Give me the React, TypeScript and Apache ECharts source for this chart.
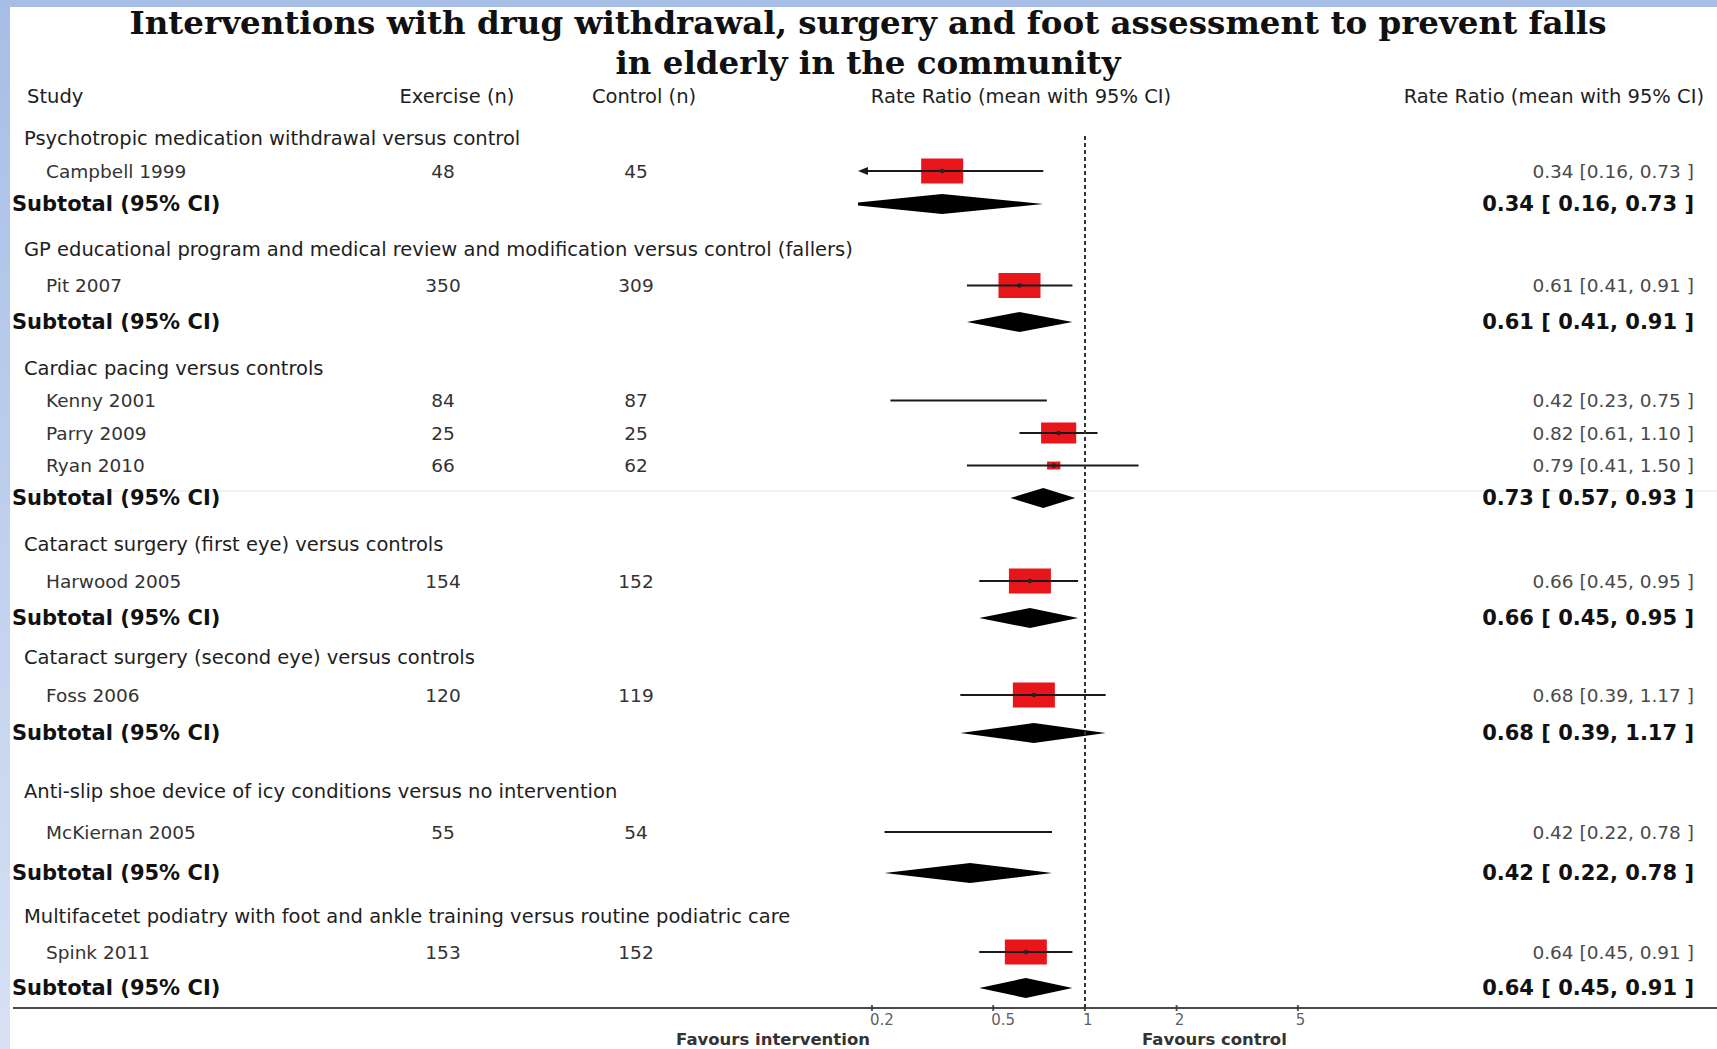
import React, { useEffect, useRef } from "react";
import * as echarts from "echarts";

// ---- data ---------------------------------------------------------------
const titleLines = [
  "Interventions with drug withdrawal, surgery and foot assessment to prevent falls",
  "in elderly in the community",
];
const columnHeaders = [
  "Study",
  "Exercise (n)",
  "Control (n)",
  "Rate Ratio (mean with 95% CI)",
  "Rate Ratio (mean with 95% CI)",
];

const groupNames = [
  "Psychotropic medication withdrawal versus control",
  "GP educational program and medical review and modification versus control (fallers)",
  "Cardiac pacing versus controls",
  "Cataract surgery (first eye) versus controls",
  "Cataract surgery (second eye) versus controls",
  "Anti-slip shoe device of icy conditions versus no intervention",
  "Multifacetet podiatry with foot and ankle training versus routine podiatric care",
];

const studyGroup = [0, 1, 2, 2, 2, 3, 4, 5, 6];
const studyNames = [
  "Campbell 1999",
  "Pit 2007",
  "Kenny 2001",
  "Parry 2009",
  "Ryan 2010",
  "Harwood 2005",
  "Foss 2006",
  "McKiernan 2005",
  "Spink 2011",
];
const exerciseN = [48, 350, 84, 25, 66, 154, 120, 55, 153];
const controlN = [45, 309, 87, 25, 62, 152, 119, 54, 152];
const studyRR = [0.34, 0.61, 0.42, 0.82, 0.79, 0.66, 0.68, 0.42, 0.64];
const studyLo = [0.16, 0.41, 0.23, 0.61, 0.41, 0.45, 0.39, 0.22, 0.45];
const studyHi = [0.73, 0.91, 0.75, 1.1, 1.5, 0.95, 1.17, 0.78, 0.91];
// study weight within its subgroup (%); null = no weight box drawn
const studyWeight: (number | null)[] = [100, 100, null, 70, 10, 100, 100, null, 100];

const subtotalLabel = "Subtotal (95% CI)";
const subtotalRR = [0.34, 0.61, 0.73, 0.66, 0.68, 0.42, 0.64];
const subtotalLo = [0.16, 0.41, 0.57, 0.45, 0.39, 0.22, 0.45];
const subtotalHi = [0.73, 0.91, 0.93, 0.95, 1.17, 0.78, 0.91];

const tickValues = [0.2, 0.5, 1, 2, 5];
const tickLabels = ["0.2", "0.5", "1", "2", "5"];
const favoursLabels = ["Favours intervention", "Favours control"];

// ---- layout ---------------------------------------------------------------
const W = 1717;
const H = 1049;
const PLOT_LEFT = 858;
const PLOT_WIDTH = 464;
const PLOT_RIGHT = PLOT_LEFT + PLOT_WIDTH;
const X_MIN = 0.18;
const X_MAX = 6;
const GROUP_TOP = [121.5, 230.75, 351.75, 525.5, 638, 770.5, 898];
const GROUP_STEP = [33, 36.5, 32.5, 37, 38, 41, 36];
const TEXT_LEFT = 12;
const EXERCISE_X = 443;
const CONTROL_X = 636;
const RATIO_RIGHT = 1694;
const AXIS_Y = 1008;

const SANS = "DejaVu Sans";

const fmt = (v: number) => v.toFixed(2);

type Row = { type: "group" | "study" | "subtotal"; idx: number };

function groupRows(g: number): Row[] {
  const rows: Row[] = [{ type: "group", idx: g }];
  studyGroup.forEach((sg, i) => {
    if (sg === g) rows.push({ type: "study", idx: i });
  });
  rows.push({ type: "subtotal", idx: g });
  return rows;
}

function clipLeft(pts: number[][], xl: number): number[][] {
  const out: number[][] = [];
  for (let i = 0; i < pts.length; i++) {
    const a = pts[i];
    const b = pts[(i + 1) % pts.length];
    const ina = a[0] >= xl;
    const inb = b[0] >= xl;
    if (ina) out.push(a);
    if (ina !== inb) {
      const t = (xl - a[0]) / (b[0] - a[0]);
      out.push([xl, a[1] + t * (b[1] - a[1])]);
    }
  }
  return out;
}

function renderStudy(_params: any, api: any) {
  const rr = api.value(0);
  const lo = api.value(1);
  const hi = api.value(2);
  const row = api.value(3);
  const wt = api.value(4);
  const [cx, cy] = api.coord([rr, row]);
  const xl = api.coord([X_MIN, row])[0];
  const xr = api.coord([X_MAX, row])[0];
  const xLo = api.coord([lo, row])[0];
  const xHi = Math.min(api.coord([hi, row])[0], xr);
  const children: any[] = [];
  if (wt > 0) {
    const f = Math.sqrt(wt / 100);
    const bw = 42 * f;
    const bh = 25 * f;
    children.push({
      type: "rect",
      shape: { x: cx - bw / 2, y: cy - bh / 2, width: bw, height: bh },
      style: { fill: "#e8151b" },
    });
  }
  const clipped = xLo < xl;
  const x0 = clipped ? xl + 3 : xLo;
  children.push({
    type: "line",
    shape: { x1: x0, y1: cy, x2: xHi, y2: cy },
    style: { stroke: "#1a1a1a", lineWidth: 2 },
  });
  if (clipped) {
    children.push({
      type: "polygon",
      shape: { points: [[xl, cy], [xl + 10, cy - 4], [xl + 10, cy + 4]] },
      style: { fill: "#1a1a1a" },
    });
  }
  if (wt > 0) {
    children.push({
      type: "circle",
      shape: { cx, cy, r: 2.2 },
      style: { fill: "#222" },
    });
  }
  return { type: "group", children };
}

function renderDiamond(_params: any, api: any) {
  const rr = api.value(0);
  const lo = api.value(1);
  const hi = api.value(2);
  const row = api.value(3);
  const [cx, cy] = api.coord([rr, row]);
  const xl = api.coord([X_MIN, row])[0];
  const xLo = api.coord([lo, row])[0];
  const xHi = api.coord([hi, row])[0];
  const hh = 10;
  const pts = clipLeft(
    [
      [xLo, cy],
      [cx, cy - hh],
      [xHi, cy],
      [cx, cy + hh],
    ],
    xl
  );
  return {
    type: "polygon",
    shape: { points: pts },
    style: { fill: "#000" },
  };
}

function buildOption() {
  const grid: any[] = [];
  const xAxis: any[] = [];
  const yAxis: any[] = [];
  const series: any[] = [];

  groupNames.forEach((_, g) => {
    const rows = groupRows(g);
    const keys = rows.map((_r, i) => `${g}-${i}`);
    grid.push({
      left: PLOT_LEFT,
      width: PLOT_WIDTH,
      top: GROUP_TOP[g],
      height: GROUP_STEP[g] * rows.length,
      containLabel: false,
      outerBoundsMode: "none",
    });
    xAxis.push({ type: "log", gridIndex: g, min: X_MIN, max: X_MAX, show: false });

    const base = {
      type: "category",
      gridIndex: g,
      inverse: true,
      data: keys,
      axisLine: { show: false },
      axisTick: { show: false },
      splitLine: { show: false },
    };
    const yName = yAxis.length;
    // study / group / subtotal names
    yAxis.push({
      ...base,
      position: "left",
      offset: 0,
      axisLabel: {
        interval: 0,
        margin: PLOT_LEFT - TEXT_LEFT,
        align: "left",
        formatter: (_v: string, i: number) => {
          const r = rows[i];
          if (r.type === "group") return `{g|${groupNames[r.idx]}}`;
          if (r.type === "study") return `{s|${studyNames[r.idx]}}`;
          return `{t|${subtotalLabel}}`;
        },
        rich: {
          g: { fontFamily: SANS, fontSize: 19.5, color: "#1e1e1e", padding: [0, 0, 0, 12] },
          s: { fontFamily: SANS, fontSize: 18.5, color: "#333", padding: [0, 0, 0, 34] },
          t: { fontFamily: SANS, fontSize: 21, fontWeight: "bold", color: "#111" },
        },
      },
    });
    // exercise (n)
    yAxis.push({
      ...base,
      position: "left",
      offset: PLOT_LEFT - EXERCISE_X,
      axisLabel: {
        interval: 0,
        margin: 0,
        align: "center",
        fontFamily: SANS,
        fontSize: 18.5,
        color: "#333",
        formatter: (_v: string, i: number) =>
          rows[i].type === "study" ? String(exerciseN[rows[i].idx]) : "",
      },
    });
    // control (n)
    yAxis.push({
      ...base,
      position: "left",
      offset: PLOT_LEFT - CONTROL_X,
      axisLabel: {
        interval: 0,
        margin: 0,
        align: "center",
        fontFamily: SANS,
        fontSize: 18.5,
        color: "#333",
        formatter: (_v: string, i: number) =>
          rows[i].type === "study" ? String(controlN[rows[i].idx]) : "",
      },
    });
    // rate ratio text
    yAxis.push({
      ...base,
      position: "right",
      offset: RATIO_RIGHT - PLOT_RIGHT,
      axisLabel: {
        interval: 0,
        margin: 0,
        align: "right",
        formatter: (_v: string, i: number) => {
          const r = rows[i];
          if (r.type === "study")
            return `{s|${fmt(studyRR[r.idx])} [${fmt(studyLo[r.idx])}, ${fmt(studyHi[r.idx])} ]}`;
          if (r.type === "subtotal")
            return `{t|${fmt(subtotalRR[r.idx])} [ ${fmt(subtotalLo[r.idx])}, ${fmt(subtotalHi[r.idx])} ]}`;
          return "";
        },
        rich: {
          s: { fontFamily: SANS, fontSize: 18.5, color: "#4a4a4a" },
          t: { fontFamily: SANS, fontSize: 21, fontWeight: "bold", color: "#111" },
        },
      },
    });

    const studyData: number[][] = [];
    rows.forEach((r, i) => {
      if (r.type === "study")
        studyData.push([studyRR[r.idx], studyLo[r.idx], studyHi[r.idx], i, studyWeight[r.idx] ?? 0]);
    });
    series.push({
      type: "custom",
      xAxisIndex: g,
      yAxisIndex: yName,
      renderItem: renderStudy,
      encode: { x: [0, 1, 2], y: 3 },
      data: studyData,
      silent: true,
      z: 3,
    });
    series.push({
      type: "custom",
      xAxisIndex: g,
      yAxisIndex: yName,
      renderItem: renderDiamond,
      encode: { x: [0, 1, 2], y: 3 },
      data: [[subtotalRR[g], subtotalLo[g], subtotalHi[g], rows.length - 1]],
      silent: true,
      z: 3,
    });
  });

  // shared axis: null line at 1, tick marks and tick labels
  const axisGrid = grid.length;
  grid.push({
    left: PLOT_LEFT,
    width: PLOT_WIDTH,
    top: 135,
    height: AXIS_Y - 135,
    containLabel: false,
    outerBoundsMode: "none",
  });
  xAxis.push({
    type: "log",
    gridIndex: axisGrid,
    min: X_MIN,
    max: X_MAX,
    axisLine: { show: false },
    axisTick: { show: false },
    axisLabel: { show: false },
    splitLine: { show: false },
  });
  const axisY = yAxis.length;
  yAxis.push({ type: "value", gridIndex: axisGrid, min: 0, max: 1, show: false });
  series.push({
    type: "scatter",
    xAxisIndex: axisGrid,
    yAxisIndex: axisY,
    data: tickValues.map((v) => [v, 0]),
    symbol: "rect",
    symbolSize: [2, 6],
    itemStyle: { color: "#333" },
    clip: false,
    silent: true,
    label: {
      show: true,
      position: "bottom",
      distance: 1,
      align: "left",
      offset: [-2, 0],
      fontFamily: SANS,
      fontSize: 15,
      lineHeight: 15,
      color: "#333",
      formatter: (p: any) => tickLabels[p.dataIndex],
    },
    markLine: {
      silent: true,
      symbol: "none",
      label: { show: false },
      lineStyle: { type: [4, 3], color: "#333", width: 2 },
      data: [{ xAxis: 1 }],
    },
    z: 2,
  });

  const headerStyle = { fontFamily: SANS, fontSize: 19.5, fill: "#1e1e1e" };
  const titleStyle = {
    fontFamily: "DejaVu Serif",
    fontWeight: "bold",
    fontSize: 32.5,
    fill: "#111",
    textAlign: "center",
    textVerticalAlign: "middle",
  };
  const favStyle = {
    fontFamily: SANS,
    fontWeight: "bold",
    fontSize: 16.5,
    lineHeight: 17,
    fill: "#333",
    textVerticalAlign: "middle",
  };
  const graphic: any[] = [
    {
      type: "rect",
      shape: { x: 0, y: 0, width: W, height: 7 },
      style: { fill: "#a6bee6" },
      z: 10,
    },
    {
      type: "rect",
      shape: { x: 0, y: 0, width: 10, height: H },
      style: {
        fill: new echarts.graphic.LinearGradient(0, 0, 0, 1, [
          { offset: 0, color: "#a6bee6" },
          { offset: 1, color: "#d8e1f4" },
        ]),
      },
      z: 10,
    },
    { type: "text", x: 868, y: 22, style: { ...titleStyle, text: titleLines[0] } },
    { type: "text", x: 868, y: 62, style: { ...titleStyle, text: titleLines[1] } },
    {
      type: "text",
      x: 27,
      y: 96,
      style: { ...headerStyle, text: columnHeaders[0], textAlign: "left", textVerticalAlign: "middle" },
    },
    {
      type: "text",
      x: 457,
      y: 96,
      style: { ...headerStyle, text: columnHeaders[1], textAlign: "center", textVerticalAlign: "middle" },
    },
    {
      type: "text",
      x: 644,
      y: 96,
      style: { ...headerStyle, text: columnHeaders[2], textAlign: "center", textVerticalAlign: "middle" },
    },
    {
      type: "text",
      x: 1021,
      y: 96,
      style: { ...headerStyle, text: columnHeaders[3], textAlign: "center", textVerticalAlign: "middle" },
    },
    {
      type: "text",
      x: 1704,
      y: 96,
      style: { ...headerStyle, text: columnHeaders[4], textAlign: "right", textVerticalAlign: "middle" },
    },
    {
      type: "line",
      shape: { x1: 10, y1: 491, x2: W, y2: 491 },
      style: { stroke: "#dfe2f2", lineWidth: 1 },
    },
    {
      type: "line",
      shape: { x1: 13, y1: AXIS_Y, x2: W, y2: AXIS_Y },
      style: { stroke: "#4a4a4a", lineWidth: 2 },
    },
    { type: "text", x: 870, y: 1039, style: { ...favStyle, text: favoursLabels[0], textAlign: "right" } },
    { type: "text", x: 1142, y: 1039, style: { ...favStyle, text: favoursLabels[1], textAlign: "left" } },
  ];

  return {
    animation: false,
    backgroundColor: "#ffffff",
    grid,
    xAxis,
    yAxis,
    series,
    graphic,
  };
}

export default function App() {
  const ref = useRef<HTMLDivElement>(null);
  useEffect(() => {
    if (!ref.current) return;
    const chart = echarts.init(ref.current, undefined, { renderer: "svg" });
    chart.setOption(buildOption() as any);
    return () => chart.dispose();
  }, []);
  return (
    <div
      ref={ref}
      style={{ position: "fixed", left: 0, top: 0, width: W, height: H, background: "#fff" }}
    />
  );
}
